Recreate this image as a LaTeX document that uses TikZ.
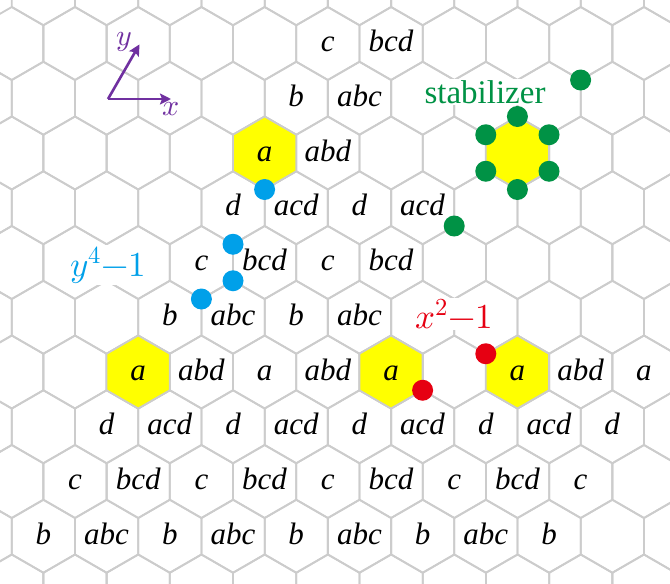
\documentclass[tikz,border=0pt]{standalone}
\usepackage{fontspec}
\usepackage{unicode-math}
\setmainfont{Liberation Serif}
\setmathfont{Latin Modern Math}
\usetikzlibrary{arrows.meta}
\definecolor{gridgray}{RGB}{204,204,204}
\definecolor{hexyellow}{RGB}{255,255,0}
\definecolor{dotblue}{RGB}{0,160,233}
\definecolor{dotred}{RGB}{230,0,18}
\definecolor{dotgreen}{RGB}{0,146,69}
\definecolor{axpurple}{RGB}{112,48,160}
\tikzset{
  hexedge/.style={draw=gridgray, line width=1.8pt, line join=round},
  yellowhex/.style={fill=hexyellow, draw=gridgray, line width=1.8pt, line join=round},
  lbl/.style={font=\fontsize{31}{31}\selectfont\itshape, anchor=base, inner sep=0pt},
  vdot/.style={circle, inner sep=0pt, minimum size=21pt, draw=none},
  colorlbl/.style={fill=white, inner sep=1.5pt, anchor=base},
  axarrow/.style={draw=axpurple, line width=2.6pt, -{Stealth[length=11pt,width=11pt,inset=2pt]}},
}
\newcommand{\hexat}[3]{\path[#1] (#2,#3) ++(0,-36.5) -- ++(31.61,18.25) -- ++(0,36.5) -- ++(-31.61,18.25) -- ++(-31.61,-18.25) -- ++(0,-36.5) -- cycle;}
\begin{document}
\begin{tikzpicture}[x=1pt,y=-1pt]
\useasboundingbox (0,0) rectangle (670,584);
\fill[white] (0,0) rectangle (670,584);
\begin{scope}
\clip (0,0) rectangle (670,584);
\foreach \j in {-1,...,10}{
  \foreach \k in {-1,...,10}{
    \pgfmathsetmacro\cx{75+63.22*\k-31.61*mod(\j,2)}
    \pgfmathsetmacro\cy{43.5+54.75*\j}
    \hexat{hexedge}{\cx}{\cy}
  }
}
\end{scope}
% yellow hexagons
\foreach \cx/\cy in {264.6/153, 517.4/153, 138.2/372, 391/372, 517.4/372}{
  \hexat{yellowhex}{\cx}{\cy}
}
% labels
\foreach \cx/\cy/\t [count=\n] in {
  327.8/43.5/c, 391/43.5/bcd,
  296.2/98.25/b, 359.4/98.25/abc,
  264.6/153/a, 327.8/153/abd,
  233/207.75/d, 296.2/207.75/acd, 359.4/207.75/d, 422.6/207.75/acd,
  201.4/262.5/c, 264.6/262.5/bcd, 327.8/262.5/c, 391/262.5/bcd,
  169.8/317.25/b, 233/317.25/abc, 296.2/317.25/b, 359.4/317.25/abc,
  138.2/372/a, 201.4/372/abd, 264.6/372/a, 327.8/372/abd, 391/372/a, 517.4/372/a, 580.6/372/abd, 643.8/372/a,
  106.6/426.75/d, 169.8/426.75/acd, 233/426.75/d, 296.2/426.75/acd, 359.4/426.75/d, 422.6/426.75/acd, 485.8/426.75/d, 549/426.75/acd, 612.2/426.75/d,
  75/481.5/c, 138.2/481.5/bcd, 201.4/481.5/c, 264.6/481.5/bcd, 327.8/481.5/c, 391/481.5/bcd, 454.2/481.5/c, 517.4/481.5/bcd, 580.6/481.5/c,
  43.4/536.25/b, 106.6/536.25/abc, 169.8/536.25/b, 233/536.25/abc, 296.2/536.25/b, 359.4/536.25/abc, 422.6/536.25/b, 485.8/536.25/abc, 549/536.25/b}{
  \node[lbl] (L\n) at (\cx,\cy+8) {\t};
}
% axes
\coordinate (O) at (108,99);
\coordinate (X) at (171,99);
\coordinate (Y) at (139.5,44.4);
\draw[axarrow] (O) -- (X);
\draw[axarrow] (O) -- (Y);
\node[text=axpurple, font=\fontsize{30}{30}\selectfont] (ylabel) at (124,42) {$y$};
\node[text=axpurple, font=\fontsize{30}{30}\selectfont] (xlabel) at (171,109) {$x$};
% blue dots
\node[vdot, fill=dotblue] (b1) at (264.6,189.5) {};
\node[vdot, fill=dotblue] (b2) at (233,244.25) {};
\node[vdot, fill=dotblue] (b3) at (233,280.75) {};
\node[vdot, fill=dotblue] (b4) at (201.4,299) {};
% red dots
\node[vdot, fill=dotred] (r1) at (422.6,390.25) {};
\node[vdot, fill=dotred] (r2) at (485.8,353.75) {};
% green dots
\foreach \dx/\dy [count=\n] in {0/-36.5, 31.61/-18.25, 31.61/18.25, 0/36.5, -31.61/18.25, -31.61/-18.25}{
  \node[vdot, fill=dotgreen] (g\n) at (517.4+\dx,153+\dy) {};
}
\node[vdot, fill=dotgreen] (g7) at (580.6,80) {};
\node[vdot, fill=dotgreen] (g8) at (454.2,226) {};
% coloured labels
\node[colorlbl, text=dotblue, font=\fontsize{35}{35}\selectfont] (ylab) at (108,276) {$y^4{-}1$};
\node[colorlbl, text=dotred, font=\fontsize{35}{35}\selectfont] (xlab) at (454.5,328.3) {$x^2{-}1$};
\node[colorlbl, text=dotgreen, font=\fontsize{33}{33}\selectfont] (stab) at (485,103.3) {stabilizer};
\end{tikzpicture}
\end{document}
